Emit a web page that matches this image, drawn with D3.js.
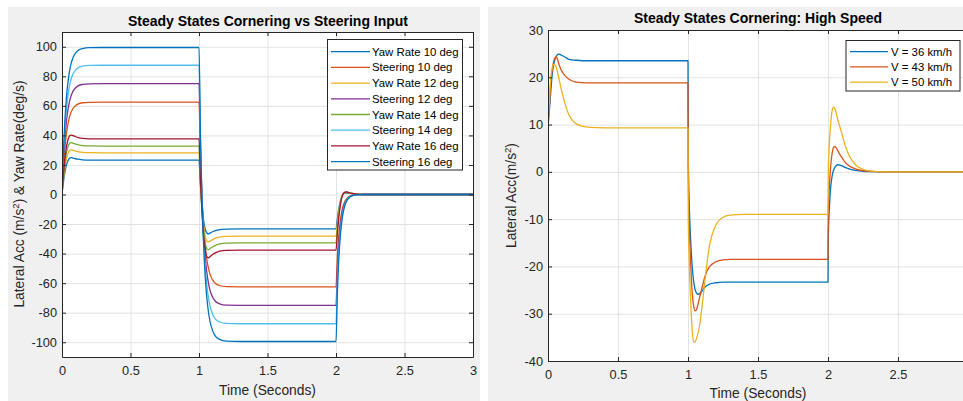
<!DOCTYPE html>
<html><head><meta charset="utf-8">
<script src="https://cdn.jsdelivr.net/npm/d3@7"></script>
<style>
html,body{margin:0;padding:0;background:#fff;}
svg{display:block;font-family:"Liberation Sans",Arial,Helvetica,sans-serif;}
</style></head>
<body><svg id="c" width="963" height="401"></svg>
<script>
// ---------- Left chart data ----------
const timeL = [0,0.01,0.02,0.03,0.04,0.05,0.06,0.07,0.08,0.1,0.12,0.15,0.2,0.3,
  1,1.01,1.02,1.03,1.04,1.05,1.06,1.07,1.08,1.1,1.12,1.15,1.2,1.3,
  2,2.01,2.02,2.03,2.04,2.05,2.06,2.07,2.08,2.1,2.12,2.15,2.2,2.3,3];
const yaw10 = [0,8.2,14.4,19.1,22.1,24.0,24.8,24.9,24.7,24.2,23.9,23.5,23.3,23.3,
  23.3,7.0,-5.6,-14.9,-21.0,-24.7,-26.3,-26.6,-26.1,-25.2,-24.5,-23.8,-23.4,-23.3,
  -23.3,-16.3,-9.8,-5.1,-1.9,0,0.8,1.0,1.0,0.7,0.5,0.2,0,0,0];
const steer10 = [0,17.7,30.4,39.5,46.0,50.7,54.1,56.4,58.2,60.3,61.4,62.1,62.4,62.5,
  62.5,27.1,1.6,-16.5,-29.5,-38.9,-45.6,-50.4,-53.9,-58.0,-60.3,-61.6,-62.4,-62.5,
  -62.5,-41.9,-28.1,-18.8,-12.6,-8.4,-5.7,-3.8,-2.6,-1.1,-0.5,-0.1,0,0,0];
const yaw12 = [0,9.9,17.5,23.1,26.8,29.0,30.0,30.2,29.9,29.3,28.9,28.5,28.3,28.2,
  28.2,8.5,-6.8,-18.0,-25.4,-29.9,-31.9,-32.1,-31.6,-30.5,-29.6,-28.8,-28.3,-28.2,
  -28.2,-19.7,-11.8,-6.2,-2.3,0,1.0,1.3,1.3,0.8,0.6,0.2,0,0,0];
const steer12 = [0,21.2,36.5,47.4,55.2,60.8,64.9,67.7,69.8,72.3,73.7,74.5,74.9,75,
  75,32.5,1.9,-19.8,-35.4,-46.7,-54.8,-60.5,-64.7,-69.6,-72.3,-74.0,-74.9,-75,
  -75,-50.3,-33.7,-22.6,-15.2,-10.1,-6.8,-4.6,-3.1,-1.4,-0.6,-0.2,0,0,0];
const yaw14 = [0,11.5,20.3,26.9,31.2,33.8,34.9,35.1,34.8,34.1,33.6,33.1,32.9,32.8,
  32.8,9.8,-7.9,-21.0,-29.5,-34.8,-37.1,-37.4,-36.7,-35.4,-34.4,-33.5,-32.9,-32.8,
  -32.8,-23.0,-13.8,-7.2,-2.6,0,1.1,1.5,1.5,1.0,0.7,0.3,0,0,0];
const steer14 = [0,24.8,42.6,55.3,64.4,71.0,75.7,79.0,81.5,84.4,85.9,86.9,87.4,87.5,
  87.5,38.0,2.3,-23.1,-41.3,-54.4,-63.9,-70.5,-75.4,-81.2,-84.4,-86.3,-87.3,-87.5,
  -87.5,-58.6,-39.3,-26.3,-17.7,-11.8,-8.0,-5.3,-3.6,-1.6,-0.7,-0.2,0,0,0];
const yaw16 = [0,13.2,23.3,30.8,35.7,38.7,40.0,40.2,39.9,39.1,38.5,38.0,37.7,37.6,
  37.6,11.3,-9.0,-24.1,-33.8,-39.9,-42.5,-42.9,-42.1,-40.6,-39.5,-38.4,-37.8,-37.6,
  -37.6,-26.3,-15.8,-8.3,-3.0,0,1.3,1.7,1.7,1.1,0.8,0.3,0,0,0];
const steer16 = [0,28.2,48.5,62.9,73.2,80.7,86.1,89.8,92.6,95.9,97.7,98.8,99.4,99.5,
  99.5,43.2,2.6,-26.3,-47.0,-61.9,-72.6,-80.2,-85.8,-92.3,-95.9,-98.1,-99.3,-99.5,
  -99.5,-66.7,-44.7,-29.9,-20.1,-13.4,-9.1,-6.1,-4.1,-1.8,-0.8,-0.2,0,0,0];
const namesL = ["Yaw Rate 10 deg","Steering 10 deg","Yaw Rate 12 deg","Steering 12 deg",
  "Yaw Rate 14 deg","Steering 14 deg","Yaw Rate 16 deg","Steering 16 deg"];
const valuesL = [yaw10,steer10,yaw12,steer12,yaw14,steer14,yaw16,steer16];
const colorsL = ["#0072BD","#D95319","#EDB120","#7E2F8E","#77AC30","#4DBEEE","#A2142F","#0072BD"];
const xTicksL = [0,0.5,1,1.5,2,2.5,3];
const yTicksL = [-100,-80,-60,-40,-20,0,20,40,60,80,100];

// ---------- Right chart data ----------
const timeR = [0,0.002,0.01,0.02,0.03,0.04,0.05,0.06,0.07,0.08,0.1,0.12,0.15,0.2,0.25,0.3,0.4,
  1,1.002,1.01,1.02,1.03,1.04,1.05,1.06,1.07,1.08,1.1,1.12,1.15,1.2,1.25,1.3,1.4,
  2,2.002,2.01,2.02,2.03,2.04,2.05,2.06,2.07,2.08,2.1,2.12,2.15,2.2,2.25,2.3,2.4,3];
const v36 = [0,10,13,17,20.5,22.6,23.8,24.5,24.85,24.9,24.6,24.3,23.8,23.6,23.5,23.5,23.5,
  23.5,3.5,-8,-15,-20,-23,-24.8,-25.6,-25.9,-25.8,-25.2,-24.4,-23.8,-23.45,-23.3,-23.3,-23.3,
  -23.3,-14,-7.5,-3,-0.8,0.4,1.0,1.35,1.5,1.45,1.25,0.95,0.65,0.3,0.12,0.05,0,0];
const v43 = [0,10,14,19,21.5,23.3,24.1,24.3,23.6,22.6,21.2,20.4,19.6,19.0,18.85,18.8,18.8,
  18.8,-1,-12,-20,-25.5,-28.3,-29.4,-29.2,-28.2,-26.9,-24.5,-22.2,-20.2,-19.0,-18.6,-18.5,-18.5,
  -18.5,-8,-3,1.5,4,5.2,5.4,5.0,4.5,3.9,3.0,2.1,1.3,0.6,0.25,0.1,0,0];
const v50 = [0,10,15,20,22,22.7,22.6,22.0,20.8,19.5,16.8,14.6,12.0,10.2,9.6,9.4,9.3,
  9.3,-10,-20,-28,-33.5,-36.0,-36.0,-35.3,-34.3,-33.0,-28.6,-23.3,-16.2,-11.2,-9.6,-9.15,-9.0,
  -9.0,0,6,10.5,13,13.7,13.3,12.2,11.0,10.0,8.0,5.8,3.5,1.4,0.55,0.2,0,0];
const namesR = ["V = 36 km/h","V = 43 km/h","V = 50 km/h"];
const valuesR = [v36,v43,v50];
const colorsR = ["#0072BD","#D95319","#EDB120"];
const xTicksR = [0,0.5,1,1.5,2,2.5];
const yTicksR = [-40,-30,-20,-10,0,10,20,30];

const svg = d3.select("#c");
const AX = "#262626", GRID = "#e3e3e3";

// figure backgrounds
svg.append("rect").attr("x",8).attr("y",7).attr("width",472).attr("height",394).attr("fill","#f0f0f0");
svg.append("rect").attr("x",488).attr("y",7).attr("width",475).attr("height",394).attr("fill","#f0f0f0");

function panel(o){
  const {x0,x1,y0,y1,xdom,ydom,xt,yt,time,values,colors,id} = o;
  const x = d3.scaleLinear().domain(xdom).range([x0,x1]);
  const y = d3.scaleLinear().domain(ydom).range([y1,y0]);
  const g = svg.append("g");
  g.append("rect").attr("x",x0).attr("y",y0).attr("width",x1-x0).attr("height",y1-y0).attr("fill","#fff");
  // grid
  g.append("g").attr("transform",`translate(0,${y1})`)
    .call(d3.axisBottom(x).tickValues(xt).tickSize(-(y1-y0)).tickFormat(""))
    .call(s=>{s.select(".domain").remove(); s.selectAll("line").attr("stroke",GRID);});
  g.append("g").attr("transform",`translate(${x0},0)`)
    .call(d3.axisLeft(y).tickValues(yt).tickSize(-(x1-x0)).tickFormat(""))
    .call(s=>{s.select(".domain").remove(); s.selectAll("line").attr("stroke",GRID);});
  // data
  svg.append("clipPath").attr("id",id).append("rect").attr("x",x0).attr("y",y0).attr("width",x1-x0).attr("height",y1-y0);
  const line = d3.line().x((d,i)=>x(time[i])).y(d=>y(d)).curve(d3.curveMonotoneX);
  const dg = g.append("g").attr("clip-path",`url(#${id})`);
  values.forEach((v,i)=>{
    dg.append("path").attr("d",line(v)).attr("fill","none").attr("stroke",colors[i])
      .attr("stroke-width",1.3).attr("stroke-linejoin","round");
  });
  // axes
  const fmt = d=>String(d);
  const styleAx = s=>{s.select(".domain").attr("stroke",AX); s.selectAll(".tick line").attr("stroke",AX);
    s.selectAll("text").attr("fill",AX).attr("font-size",12.8).attr("font-family","Liberation Sans, Arial, sans-serif");};
  g.append("g").attr("transform",`translate(0,${y1})`)
    .call(d3.axisBottom(x).tickValues(xt).tickSizeInner(-4).tickSizeOuter(0).tickPadding(9).tickFormat(fmt)).call(styleAx);
  g.append("g").attr("transform",`translate(${x0},0)`)
    .call(d3.axisLeft(y).tickValues(yt).tickSizeInner(-4).tickSizeOuter(0).tickPadding(5).tickFormat(fmt)).call(styleAx);
  g.append("g").attr("transform",`translate(0,${y0})`)
    .call(d3.axisTop(x).tickValues(xt).tickSizeInner(-4).tickSizeOuter(0).tickFormat("")).call(styleAx);
  g.append("g").attr("transform",`translate(${x1},0)`)
    .call(d3.axisRight(y).tickValues(yt).tickSizeInner(-4).tickSizeOuter(0).tickFormat("")).call(styleAx);
  return {x,y,g};
}

// ---------- Left panel ----------
panel({x0:62,x1:473,y0:32,y1:357,xdom:[0,3],ydom:[-110,110],xt:xTicksL,yt:yTicksL,
  time:timeL,values:valuesL,colors:colorsL,id:"clipL"});
svg.append("text").attr("x",268).attr("y",26).attr("text-anchor","middle").attr("font-weight","bold")
  .attr("font-size",14).attr("fill","#000").text("Steady States Cornering vs Steering Input");
svg.append("text").attr("x",267.5).attr("y",395).attr("text-anchor","middle").attr("font-size",13.8)
  .attr("fill",AX).text("Time (Seconds)");
{
  const t = svg.append("text").attr("transform","translate(24,194) rotate(-90)").attr("text-anchor","middle")
    .attr("font-size",13.8).attr("fill",AX);
  t.append("tspan").text("Lateral Acc (m/s");
  t.append("tspan").attr("font-size",9.5).attr("dy",-5).text("2");
  t.append("tspan").attr("dy",5).text(") & Yaw Rate(deg/s)");
}
// left legend
{
  const lg = svg.append("g");
  lg.append("rect").attr("x",327.5).attr("y",39.5).attr("width",135).attr("height",130.5)
    .attr("fill","#fff").attr("stroke",AX).attr("stroke-width",1);
  namesL.forEach((n,i)=>{
    const yy = 51.7 + i*15.7;
    lg.append("line").attr("x1",331).attr("x2",370).attr("y1",yy).attr("y2",yy)
      .attr("stroke",colorsL[i]).attr("stroke-width",1.3);
    lg.append("text").attr("x",372).attr("y",yy+4).attr("font-size",11.4).attr("fill","#000").text(n);
  });
}

// ---------- Right panel ----------
panel({x0:548,x1:968,y0:30,y1:361,xdom:[0,3],ydom:[-40,30],xt:xTicksR,yt:yTicksR,
  time:timeR,values:valuesR,colors:colorsR,id:"clipR"});
svg.append("text").attr("x",758).attr("y",23).attr("text-anchor","middle").attr("font-weight","bold")
  .attr("font-size",14).attr("fill","#000").text("Steady States Cornering: High Speed");
svg.append("text").attr("x",758).attr("y",398).attr("text-anchor","middle").attr("font-size",13.8)
  .attr("fill",AX).text("Time (Seconds)");
{
  const t = svg.append("text").attr("transform","translate(516,195.5) rotate(-90)").attr("text-anchor","middle")
    .attr("font-size",13.8).attr("fill",AX);
  t.append("tspan").text("Lateral Acc(m/s");
  t.append("tspan").attr("font-size",9.5).attr("dy",-5).text("2");
  t.append("tspan").attr("dy",5).text(")");
}
{
  const lg = svg.append("g");
  lg.append("rect").attr("x",846).attr("y",40.5).attr("width",114).attr("height",50.5)
    .attr("fill","#fff").attr("stroke",AX).attr("stroke-width",1);
  namesR.forEach((n,i)=>{
    const yy = 51.7 + i*15.2;
    lg.append("line").attr("x1",850).attr("x2",888).attr("y1",yy).attr("y2",yy)
      .attr("stroke",colorsR[i]).attr("stroke-width",1.3);
    lg.append("text").attr("x",891).attr("y",yy+4).attr("font-size",11.4).attr("fill","#000").text(n);
  });
}
</script></body></html>
